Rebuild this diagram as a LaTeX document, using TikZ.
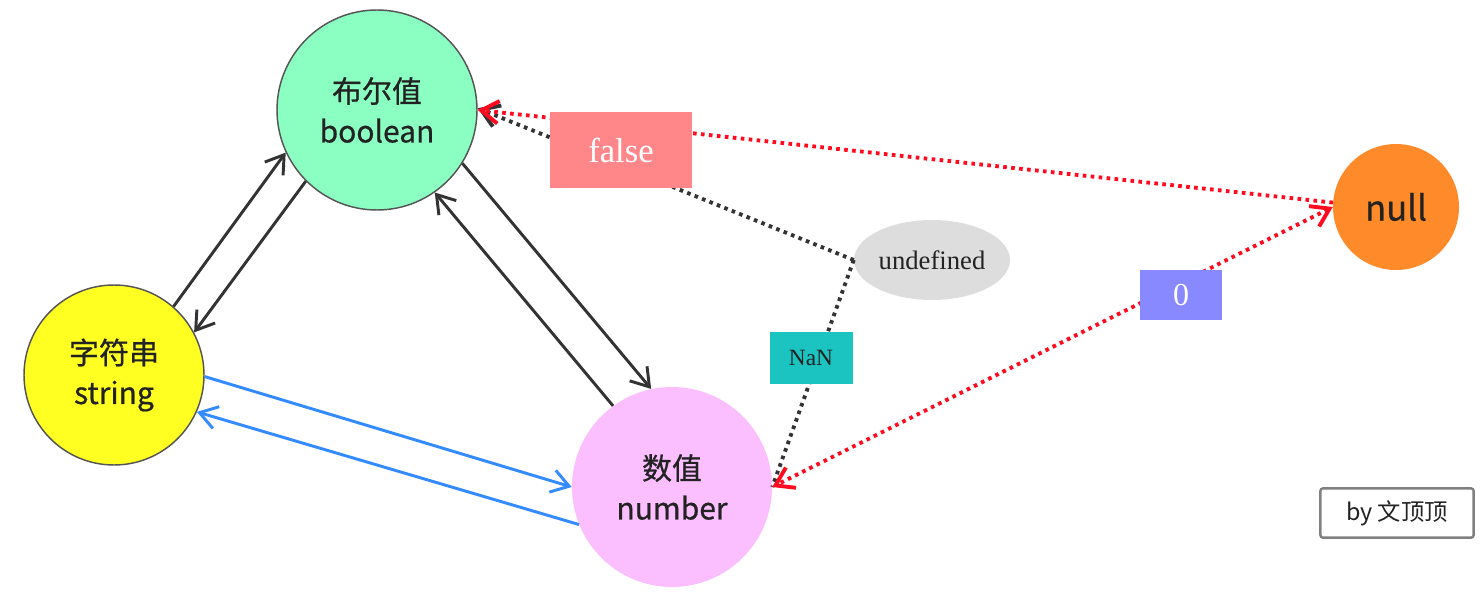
\documentclass[tikz,border=0pt]{standalone}
\usepackage{fontspec}
\setmainfont{Liberation Serif}
\newfontfamily\cjk{Noto Sans CJK SC}
\newfontfamily\cjkheavy{Noto Sans CJK SC}[FakeBold=0.6]
\usetikzlibrary{arrows.meta,shapes.geometric}
\definecolor{cbool}{RGB}{139,255,193}
\definecolor{cstr}{RGB}{255,255,34}
\definecolor{cnum}{RGB}{251,190,255}
\definecolor{cnull}{RGB}{255,138,42}
\definecolor{cfalse}{RGB}{255,135,138}
\definecolor{cnan}{RGB}{27,196,192}
\definecolor{czero}{RGB}{136,136,255}
\definecolor{cundef}{RGB}{221,221,221}
\definecolor{cblue}{RGB}{51,139,255}
\definecolor{cred}{RGB}{255,10,30}
\definecolor{cdark}{RGB}{51,51,51}
\definecolor{cborder}{RGB}{85,85,85}
\definecolor{ctxt}{RGB}{34,34,34}
\tikzset{
  vbarb/.tip={Straight Barb[length=13pt,width=17pt]},
  typenode/.style={circle, inner sep=0pt, align=center, text=ctxt,
    font=\cjkheavy\fontsize{22.5}{30}\selectfont},
  bordered/.style={draw=cborder, line width=1.1pt},
  labelbox/.style={rectangle, inner sep=0pt},
  conv/.style={draw=cdark, line width=2.2pt, -vbarb},
  convblue/.style={draw=cblue, line width=2.2pt, -vbarb},
  reddot/.style={draw=cred, line width=2.9pt, dash pattern=on 2.7pt off 3.3pt},
  darkdot/.style={draw=cdark, line width=2.9pt, dash pattern=on 2.7pt off 3.3pt}
}
\begin{document}
\begin{tikzpicture}[x=0.75pt,y=-0.75pt]
\useasboundingbox (0,0) rectangle (1484,602);
% type nodes
\node[typenode, bordered, fill=cbool, minimum size=150pt] (bool) at (377,110) {布尔值\\boolean};
\node[typenode, bordered, fill=cstr, minimum size=135pt] (str) at (114,375) {字符串\\string};
\node[typenode, fill=cnum, minimum size=150pt] (num) at (672,487) {数值\\number};
\node[typenode, fill=cnull, minimum size=94.5pt, font=\cjkheavy\fontsize{26}{30}\selectfont] (null) at (1396,207) {null};
\node[ellipse, fill=cundef, minimum width=117pt, minimum height=60pt, inner sep=0pt,
      font=\fontsize{20}{24}\selectfont, text=ctxt] (undef) at (932,260) {undefined};
% solid connectors
\draw[conv] (str.49) -- (bool.205);
\draw[conv] (bool.225) -- (str.28);
\draw[conv] (num.126) -- (bool.305);
\draw[conv] (bool.328) -- (num.102);
\draw[convblue] (str.-1) -- (num.180);
\draw[convblue] (num.202) -- (str.336);
% dotted connectors
\draw[darkdot, -vbarb] (undef.west) -- (bool.1);
\draw[darkdot] (undef.west) -- (num.0);
\draw[reddot, -vbarb] (null.176) -- (bool.0);
\draw[reddot, vbarb-vbarb] (null.180) -- (num.0);
% labels
\node[labelbox, fill=cfalse, minimum width=106.5pt, minimum height=57pt, text=white,
      font=\fontsize{26}{30}\selectfont] (false) at (621,150) {false};
\node[labelbox, fill=cnan, minimum width=62.25pt, minimum height=39pt, text=ctxt,
      font=\fontsize{17.5}{20}\selectfont] (nan) at (811,358) {NaN};
\node[labelbox, fill=czero, minimum width=61.5pt, minimum height=37.5pt, text=white,
      font=\fontsize{24}{28}\selectfont] (zero) at (1181,295) {0};
% credit
\node[labelbox, draw=gray, line width=1.8pt, rounded corners=2pt, minimum width=115pt,
      minimum height=37pt, text=ctxt, font=\cjk\fontsize{17.5}{20}\selectfont] (credit) at (1397,513) {by 文顶顶};
\end{tikzpicture}
\end{document}
